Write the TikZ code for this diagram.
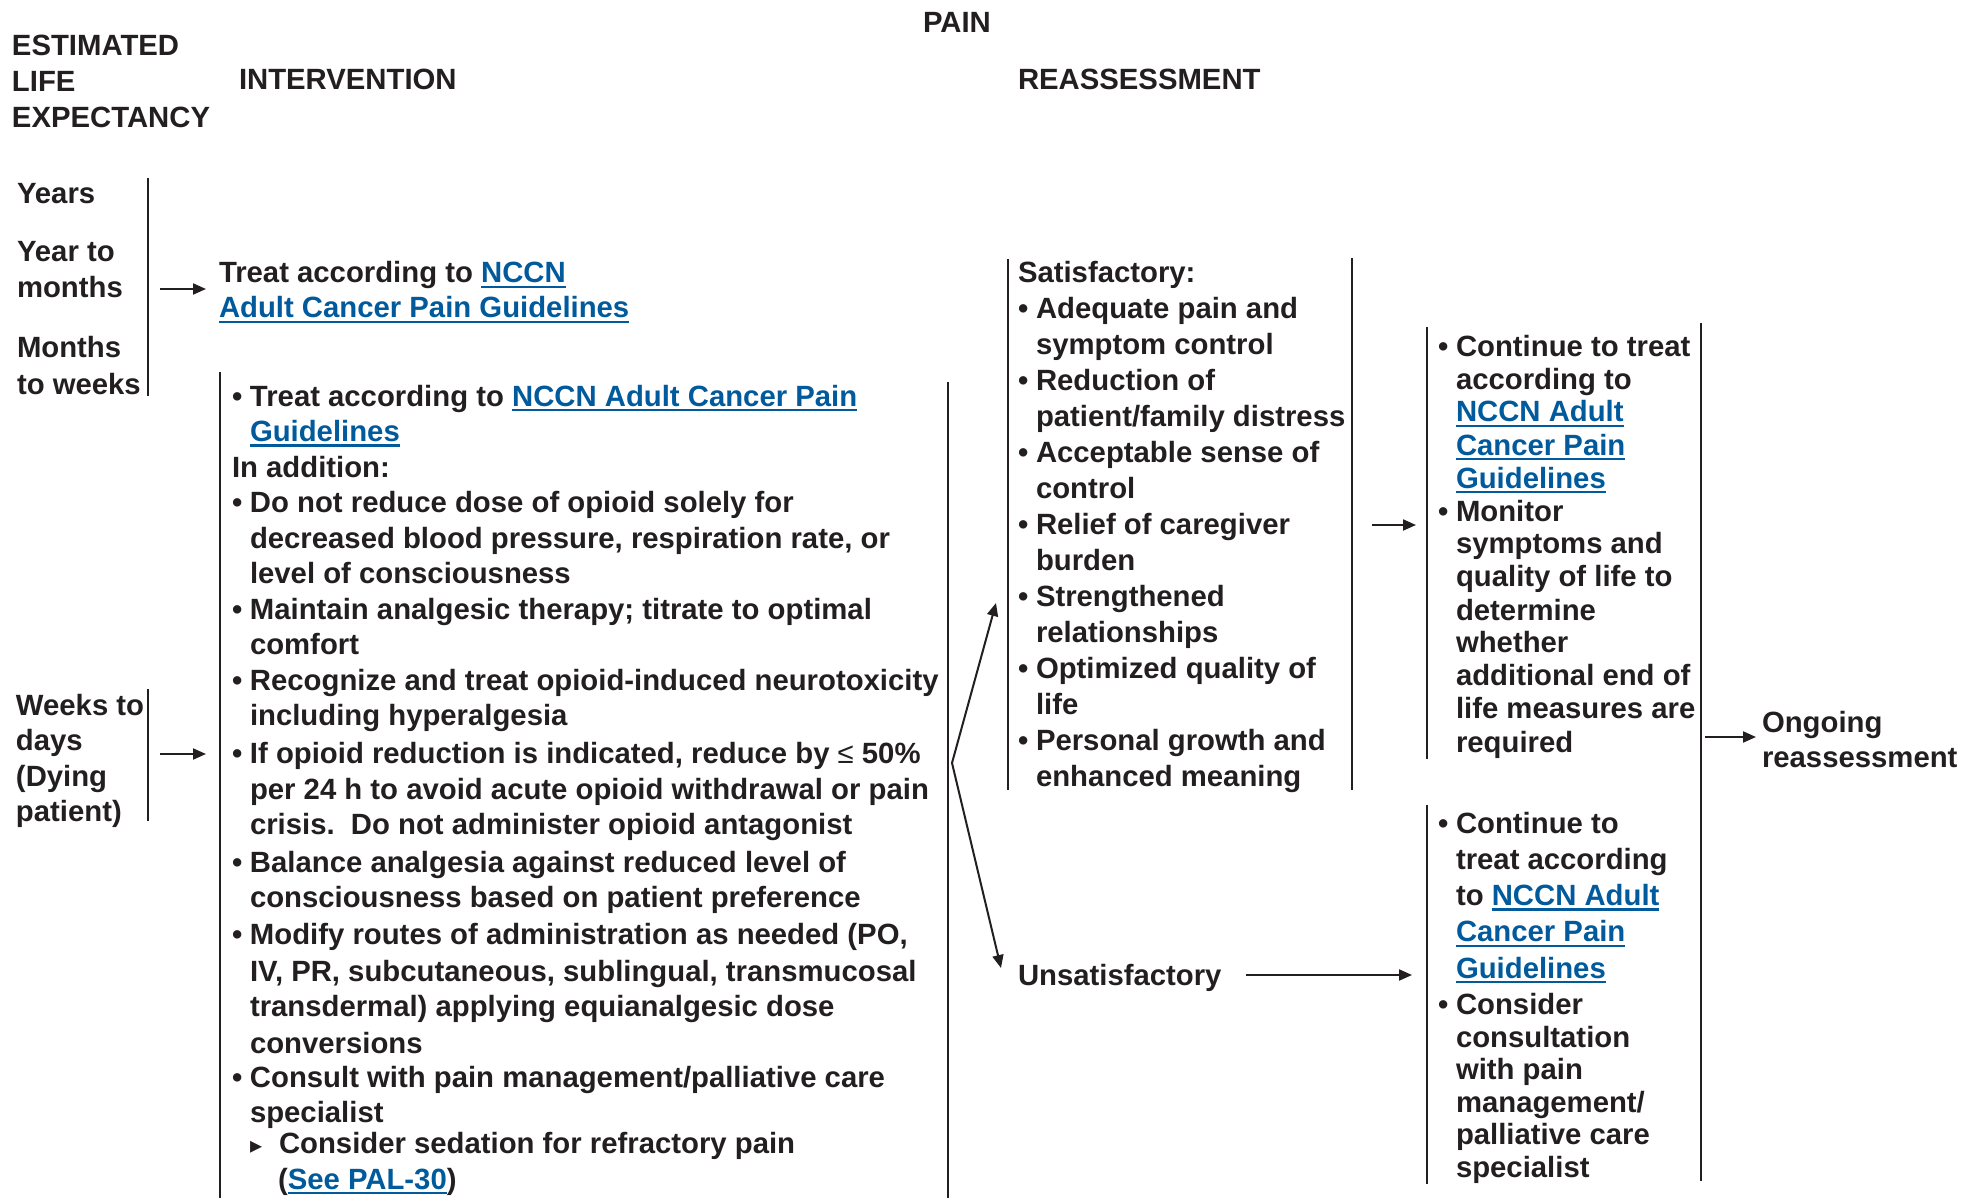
\documentclass[tikz,border=0pt]{standalone}
\usepackage{fontspec}
\setmainfont{Liberation Sans}
\newfontfamily\dejavu{DejaVu Sans}
\usetikzlibrary{arrows.meta}
\definecolor{ink}{HTML}{231F20}
\definecolor{linkblue}{HTML}{005A9C}
\newcommand\lnk[1]{\textcolor{linkblue}{\setbox0\hbox{#1}\rlap{\rule[-5pt]{\wd0}{2.2pt}}\box0}}
\newcommand\bl{\makebox[18pt][l]{\textbullet}}
\newcommand\ind{\hspace*{18pt}}
\newcommand\tri{\makebox[29pt][l]{{\dejavu\fontsize{24}{24}\selectfont ▸}}}
\newcommand\txt[2][36]{\parbox[t]{900pt}{\raggedright\fontsize{29.3}{#1}\selectfont\bfseries\leavevmode\color{ink}#2}}
\begin{document}
\begin{tikzpicture}[x=1pt,y=-1pt,
  lbl/.style={anchor=base west,inner sep=0pt,outer sep=0pt},
  bracket/.style={draw=ink,line width=2pt},
  arr/.style={draw=ink,line width=2pt,-{Triangle[length=13pt,width=11pt]}}]
\useasboundingbox (0,0) rectangle (1963,1198);
% headers
\node[lbl] (pain) at (923,33) {\txt{PAIN}};
\node[lbl] (ele) at (12,56) {\txt{ESTIMATED\\LIFE\\EXPECTANCY}};
\node[lbl] (intv) at (239,90) {\txt{INTERVENTION}};
\node[lbl] (reas) at (1018,90) {\txt{REASSESSMENT}};
% life expectancy labels
\node[lbl] (years) at (17,204) {\txt{Years}};
\node[lbl] (ytm) at (17,262) {\txt{Year to\\months}};
\node[lbl] (mtw) at (17,358) {\txt{Months\\to weeks}};
\node[lbl] (wtd) at (16,715) {\txt[35.5]{Weeks to\\days\\(Dying\\patient)}};
% interventions
\node[lbl] (treat1) at (219,283) {\txt[35]{Treat according to \lnk{NCCN}\\\lnk{Adult Cancer Pain Guidelines}}};
\node[lbl] (main) at (232,406) {\txt[35.55]{%
\bl Treat according to \lnk{NCCN Adult Cancer Pain}\\
\ind\lnk{Guidelines}\\
In addition:\\
\bl Do not reduce dose of opioid solely for\\
\ind decreased blood pressure, respiration rate, or\\
\ind level of consciousness\\
\bl Maintain analgesic therapy; titrate to optimal\\
\ind comfort\\
\bl Recognize and treat opioid-induced neurotoxicity\\
\ind including hyperalgesia\\[2pt]
\bl If opioid reduction is indicated, reduce by {\mdseries ≤} 50\%\\
\ind per 24 h to avoid acute opioid withdrawal or pain\\
\ind crisis.\ \ Do not administer opioid antagonist\\[2pt]
\bl Balance analgesia against reduced level of\\
\ind consciousness based on patient preference\\[1.5pt]
\bl Modify routes of administration as needed (PO,\\[1pt]
\ind IV, PR, subcutaneous, sublingual, transmucosal\\
\ind transdermal) applying equianalgesic dose\\[1.5pt]
\ind conversions\\[-1.5pt]
\bl Consult with pain management/palliative care\\[-1pt]
\ind specialist\\[-4.5pt]
\ind\tri Consider sedation for refractory pain\\
\hspace*{46pt}(\lnk{See PAL-30})}};
% reassessment
\node[lbl] (sat) at (1018,283) {\txt[36]{%
Satisfactory:\\
\bl Adequate pain and\\
\ind symptom control\\
\bl Reduction of\\
\ind patient/family distress\\
\bl Acceptable sense of\\
\ind control\\
\bl Relief of caregiver\\
\ind burden\\
\bl Strengthened\\
\ind relationships\\
\bl Optimized quality of\\
\ind life\\
\bl Personal growth and\\
\ind enhanced meaning}};
\node[lbl] (unsat) at (1018,985) {\txt{Unsatisfactory}};
\node[lbl] (cont1) at (1438,356) {\txt[33]{%
\bl Continue to treat\\
\ind according to\\
\ind\lnk{NCCN Adult}\\
\ind\lnk{Cancer Pain}\\
\ind\lnk{Guidelines}\\
\bl Monitor\\
\ind symptoms and\\
\ind quality of life to\\
\ind determine\\
\ind whether\\
\ind additional end of\\
\ind life measures are\\
\ind required}};
\node[lbl] (cont2) at (1438,833) {\txt[32.6]{%
\bl Continue to\\[3.7pt]
\ind treat according\\[3.7pt]
\ind to \lnk{NCCN Adult}\\[3.7pt]
\ind\lnk{Cancer Pain}\\[3.7pt]
\ind\lnk{Guidelines}\\[3.7pt]
\bl Consider\\
\ind consultation\\
\ind with pain\\
\ind management/\\
\ind palliative care\\
\ind specialist}};
\node[lbl] (ongo) at (1762,732) {\txt[35]{Ongoing\\reassessment}};
% brackets
\draw[bracket] (148,178) -- (148,396);
\draw[bracket] (148,689) -- (148,821);
\draw[bracket] (220,372) -- (220,1198);
\draw[bracket] (948,382) -- (948,1198);
\draw[bracket] (1008,259) -- (1008,790);
\draw[bracket] (1352,258) -- (1352,790);
\draw[bracket] (1427,327) -- (1427,759);
\draw[bracket] (1427,805) -- (1427,1184);
\draw[bracket] (1701,323) -- (1701,1181);
% connector coordinates
\coordinate (a1s) at (160,289); \coordinate (a1e) at (206,289);
\coordinate (a2s) at (160,754); \coordinate (a2e) at (206,754);
\coordinate (fork) at (952,763);
\coordinate (fup) at (996,603);
\coordinate (fdn) at (1001,968);
\coordinate (a3s) at (1372,525); \coordinate (a3e) at (1416,525);
\coordinate (a4s) at (1246,975); \coordinate (a4e) at (1412,975);
\coordinate (a5s) at (1705,737); \coordinate (a5e) at (1756,737);
\draw[arr] (a1s) -- (a1e);
\draw[arr] (a2s) -- (a2e);
\draw[arr] (fork) -- (fup);
\draw[arr] (fork) -- (fdn);
\draw[arr] (a3s) -- (a3e);
\draw[arr] (a4s) -- (a4e);
\draw[arr] (a5s) -- (a5e);
\end{tikzpicture}
\end{document}
